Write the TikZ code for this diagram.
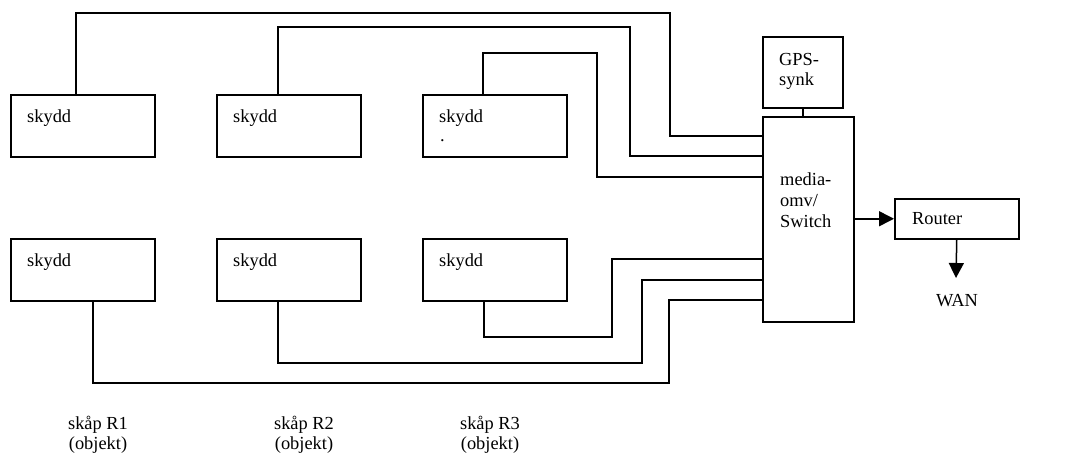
\documentclass[tikz,border=0pt]{standalone}
\usepackage{fontspec}
\setmainfont{Liberation Serif}
\usetikzlibrary{arrows.meta}
\tikzset{
  box/.style={draw, line width=1.5pt, inner sep=0pt, anchor=north west},
  wire/.style={line width=1.5pt},
  arr/.style={line width=1.5pt, -{Triangle[length=15pt,width=15pt]}},
  txt/.style={inner sep=0pt, font=\fontsize{18.4}{21}\selectfont},
}
\begin{document}
\begin{tikzpicture}[x=1pt,y=-1pt]
\useasboundingbox (0,0) rectangle (1079,455);

% protection units, upper row
\node[box, minimum width=144pt, minimum height=62pt] (t1) at (10,94) {};
\node[box, minimum width=144pt, minimum height=62pt] (t2) at (216,94) {};
\node[box, minimum width=144pt, minimum height=62pt] (t3) at (422,94) {};
% protection units, lower row
\node[box, minimum width=144pt, minimum height=62pt] (b1) at (10,238) {};
\node[box, minimum width=144pt, minimum height=62pt] (b2) at (216,238) {};
\node[box, minimum width=144pt, minimum height=62pt] (b3) at (422,238) {};
% GPS clock, media converter / switch, router
\node[box, minimum width=80pt, minimum height=71pt] (gps) at (762,36) {};
\node[box, minimum width=91pt, minimum height=205pt] (sw) at (762,116) {};
\node[box, minimum width=124pt, minimum height=40pt] (router) at (894,198) {};

% box texts
\node[txt, anchor=base west] (t1t) at (27,122) {skydd};
\node[txt, anchor=base west] (t2t) at (233,122) {skydd};
\node[txt, anchor=base west] (t3t) at (439,122) {skydd};
\node[txt, anchor=base west] (t3d) at (440,141) {.};
\node[txt, anchor=base west] (b1t) at (27,266) {skydd};
\node[txt, anchor=base west] (b2t) at (233,266) {skydd};
\node[txt, anchor=base west] (b3t) at (439,266) {skydd};
\node[txt, anchor=base west] (gps1) at (779,65) {GPS-};
\node[txt, anchor=base west] (gps2) at (779,85) {synk};
\node[txt, anchor=base west] (sw1) at (780,185) {media-};
\node[txt, anchor=base west] (sw2) at (780,206) {omv/};
\node[txt, anchor=base west] (sw3) at (780,227) {Switch};
\node[txt, anchor=base west] (rt) at (912,224) {Router};
\node[txt, anchor=base] (wan) at (957,306) {WAN};

% cabinet captions
\node[txt, anchor=base] (r1a) at (98,429) {skåp R1};
\node[txt, anchor=base] (r1b) at (98,449) {(objekt)};
\node[txt, anchor=base] (r2a) at (304,429) {skåp R2};
\node[txt, anchor=base] (r2b) at (304,449) {(objekt)};
\node[txt, anchor=base] (r3a) at (490,429) {skåp R3};
\node[txt, anchor=base] (r3b) at (490,449) {(objekt)};

% fibre runs from the upper row into the switch
\draw[wire] ([xshift=66pt]t1.north west) |- (670,13) |- (sw.west |- 0,136);
\draw[wire] ([xshift=62pt]t2.north west) |- (630,27) |- (sw.west |- 0,156);
\draw[wire] ([xshift=61pt]t3.north west) |- (597,53) |- (sw.west |- 0,177);
% fibre runs from the lower row into the switch
\draw[wire] ([xshift=62pt]b3.south west) |- (612,337) |- (sw.west |- 0,259);
\draw[wire] ([xshift=62pt]b2.south west) |- (642,363) |- (sw.west |- 0,280);
\draw[wire] ([xshift=83pt]b1.south west) |- (669,383) |- (sw.west |- 0,300);

% GPS to switch, switch to router, router to WAN
\draw[wire] (gps.south) -- (gps.south |- sw.north);
\draw[arr] (router.west -| sw.east) -- (router.west);
\coordinate (wanend) at (956,278);
\draw[arr] (router.south) -- (wanend);
\end{tikzpicture}
\end{document}
